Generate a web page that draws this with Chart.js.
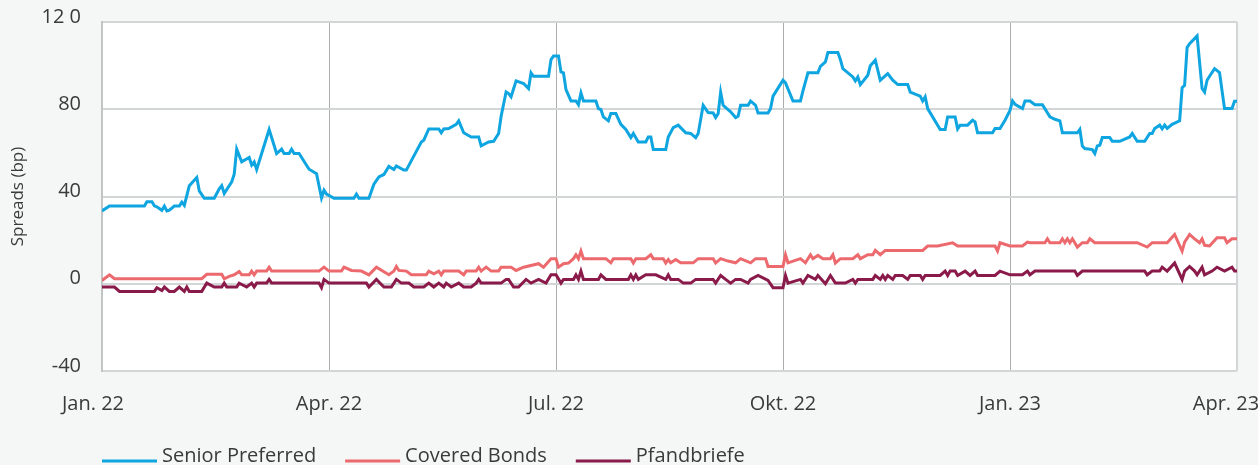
<!DOCTYPE html>
<html><head><meta charset="utf-8">
<script src="https://cdn.jsdelivr.net/npm/chart.js@4.4.1/dist/chart.umd.min.js"></script>
<style>
html,body{margin:0;padding:0;background:#f5f6f6;}
#wrap{position:relative;width:1258px;height:465px;}
</style></head><body>
<div id="wrap"><canvas id="c" width="1258" height="465"></canvas></div>
<script>
// Axis ticks
const xTickValues = [0, 91, 182, 273, 364, 455];
const xTickLabels = ['Jan. 22', 'Apr. 22', 'Jul. 22', 'Okt. 22', 'Jan. 23', 'Apr. 23'];
const yTickValues = [-40, 0, 40, 80, 120];
const yTickLabels = ['-40', '0', '40', '80', '12 0'];
const seriesNames = ['Senior Preferred', 'Covered Bonds', 'Pfandbriefe'];

// Senior Preferred (day index, bp)
const spX = [0,3,17,18,20,21,22,24,25,26,27,29,31,32,33,35,38,39,41,45,46,47,48,49,52,53,54,56,59,60,61,62,67,70,72,73,75,76,77,79,83,86,88,89,90,93,101,102,103,107,109,111,113,115,117,118,121,122,128,129,131,135,136,137,139,142,143,145,148,151,152,155,157,159,160,162,163,164,166,169,171,172,173,179,180,181,183,184,185,186,188,190,191,192,193,198,199,200,201,203,204,206,208,210,212,213,215,218,219,220,221,226,227,229,231,234,236,238,239,241,243,245,246,247,248,249,252,254,255,256,259,260,262,263,267,268,269,273,274,277,280,281,283,287,288,290,291,295,296,297,301,302,303,304,307,308,310,312,315,317,319,323,324,328,329,330,331,335,336,338,339,342,343,344,347,349,350,351,357,358,360,362,364,365,366,369,370,372,374,377,380,382,384,385,391,392,393,394,397,398,399,400,401,404,405,408,412,413,415,418,420,421,422,424,425,426,427,429,432,433,434,435,436,439,441,442,443,444,446,448,450,453,454,455];
const spY = [33.4,35.6,35.6,37.6,37.6,35.7,35.3,33.7,35.6,33.4,33.7,35.6,35.6,37.4,35.9,44.9,48.7,42.6,39.2,39.2,41.4,43.5,45.0,41.4,46.7,50.2,61.7,55.9,57.9,54.4,55.9,52.4,70.7,59.7,61.7,59.7,59.7,61.7,59.7,59.7,52.5,50.5,39.4,42.9,41.1,39.2,39.2,41.1,39.2,39.2,45.6,49.0,50.1,53.8,52.4,54.0,52.1,52.1,65.0,65.8,71.0,71.0,69.2,71.0,71.2,73.1,74.7,69.2,67.3,67.3,63.2,65.0,65.3,68.9,76.8,87.9,87.2,85.7,93.0,91.8,89.5,96.7,95.1,95.1,102.8,104.4,104.4,97.1,96.7,89.0,83.8,83.8,82.1,87.5,83.8,83.8,80.3,79.9,76.5,74.7,78.0,78.0,73.1,70.7,67.0,68.9,65.0,65.0,67.3,67.3,61.5,61.5,67.3,71.6,72.7,69.2,68.9,67.0,68.9,81.8,78.5,78.3,76.2,78.0,87.8,81.8,78.8,76.2,76.8,81.8,81.8,83.8,81.8,78.3,78.3,80.3,86.0,93.3,92.1,83.8,83.8,88.4,96.7,96.7,99.7,101.7,106.0,106.0,102.8,98.6,94.8,93.0,94.8,91.3,95.6,99.9,102.5,93.3,96.3,93.3,91.3,91.3,87.9,86.0,83.8,85.7,80.3,72.7,70.7,70.7,76.5,76.5,71.0,72.7,72.7,75.0,74.2,69.2,69.2,71.2,71.2,75.0,79.5,83.8,82.3,80.3,83.8,83.8,82.1,82.1,76.5,75.4,74.7,69.2,69.2,70.8,63.1,62.0,61.5,59.7,63.2,63.5,67.0,67.0,65.3,65.3,67.3,68.9,65.3,65.3,68.9,68.9,71.2,72.7,71.0,72.7,71.2,73.1,74.7,89.9,91.0,108.3,110.1,113.6,89.5,87.9,93.3,95.1,98.6,96.8,80.3,80.3,83.7,83.7];

// Covered Bonds
const cbX = [0,3,5,40,42,48,49,51,53,55,56,59,60,61,62,66,67,68,87,89,91,96,97,100,104,107,110,115,117,118,119,122,124,130,131,133,135,136,137,143,145,146,150,151,152,154,156,159,160,164,166,169,175,177,180,182,183,185,187,189,190,191,192,193,202,204,205,212,213,214,218,220,221,225,226,227,228,230,232,237,239,245,246,248,251,254,256,260,262,266,267,273,274,275,280,282,284,285,287,289,292,293,294,296,301,303,304,307,309,310,312,314,329,331,335,341,343,358,359,360,364,369,371,372,378,379,380,384,385,386,387,388,389,391,393,395,396,398,415,419,421,427,430,433,434,436,438,440,441,442,444,447,450,451,453,455];
const cbY = [1.5,4.1,2.3,2.3,4.3,4.3,2.3,3.4,4.1,5.6,4.1,4.1,5.8,4.1,5.8,5.8,7.6,5.8,5.8,7.6,5.8,5.8,7.6,6.1,5.8,4.1,7.6,4.1,5.8,7.9,6.1,5.8,4.1,4.1,5.8,4.6,5.8,4.1,5.8,5.8,4.1,5.8,5.8,7.6,5.8,7.6,5.8,5.8,7.6,7.6,6.1,7.6,9.2,7.6,11.5,11.5,7.6,9.2,9.5,11.5,13.3,11.5,15.0,11.5,11.5,9.6,11.5,11.5,9.5,11.5,11.5,13.3,11.5,11.5,9.5,11.1,9.6,11.1,9.6,9.6,11.5,11.5,9.5,11.5,10.4,9.6,11.5,9.6,11.5,11.5,7.9,7.9,13.3,9.6,11.5,9.6,13.3,11.5,13.0,11.5,11.5,13.3,9.5,11.5,11.5,13.3,11.5,13.3,13.3,15.3,13.3,15.3,15.3,17.3,17.3,18.8,17.3,17.3,15.0,18.8,17.3,17.3,19.1,18.8,18.8,20.6,18.8,18.8,20.6,18.8,20.6,18.8,20.6,16.8,18.8,18.8,20.6,18.8,18.8,16.8,18.8,18.8,22.6,15.0,19.1,22.6,20.6,18.8,20.6,17.6,17.3,21.1,21.1,18.8,20.6,20.6];

// Pfandbriefe
const pfX = [0,5,7,21,22,24,25,27,29,31,33,34,35,40,42,45,48,49,50,54,55,58,60,61,62,66,67,68,87,88,89,91,106,107,110,113,116,118,120,123,125,129,131,133,135,137,138,140,143,145,148,150,151,152,160,162,163,165,167,170,172,175,178,180,182,184,185,189,190,191,192,193,199,200,202,211,212,213,214,215,218,222,226,227,228,231,233,236,238,245,246,248,250,252,254,256,259,260,263,267,269,273,274,275,280,281,283,286,287,290,292,294,298,301,302,303,309,310,312,313,314,315,317,318,321,323,324,328,329,330,336,338,339,340,342,343,346,348,350,351,358,360,364,369,371,372,374,390,391,393,418,419,421,424,425,427,430,433,434,436,438,439,441,442,445,447,450,453,454,455];
const pfY = [-1.5,-1.5,-3.5,-3.5,-1.8,-3.1,-1.5,-3.5,-3.5,-1.5,-3.5,-1.5,-3.5,-3.5,0.3,-1.5,-1.5,0.3,-1.5,-1.5,0.3,-1.5,0.3,-1.5,0.3,0.3,2.0,0.3,0.3,-1.8,2.0,0.3,0.3,-1.5,2.0,-1.5,-1.5,2.0,0.3,0.3,-1.5,-1.5,0.3,-1.5,0.3,-1.5,0.3,-1.5,0.3,-1.5,-1.5,0.3,2.0,0.3,0.3,2.0,2.0,-1.5,-1.5,2.0,0.3,2.0,0.3,4.1,4.1,0.3,2.0,2.0,4.1,2.0,5.8,2.0,2.0,4.1,2.0,2.0,4.1,2.0,4.1,2.0,4.1,4.1,2.0,4.1,2.0,2.0,0.3,0.3,2.0,2.0,0.3,3.8,2.0,0.3,2.0,2.0,0.3,2.0,3.8,1.5,-1.8,-1.8,3.8,0.3,2.0,0.3,3.8,2.0,3.8,0.0,3.8,0.3,0.3,2.0,0.3,2.0,2.0,3.8,2.0,3.8,2.0,3.8,2.0,3.8,3.8,2.0,3.8,3.8,2.0,3.8,3.8,5.8,3.8,5.8,5.8,3.8,5.8,3.8,5.8,3.8,3.8,5.8,4.1,4.1,5.8,4.1,5.8,5.8,3.8,5.8,5.8,4.1,5.8,5.8,7.6,5.8,9.5,2.0,5.8,7.9,5.8,4.1,7.6,4.1,5.8,7.6,5.8,7.6,5.8,5.8];

const seriesColors = ['#0ea5e0', '#ec6a6e', '#8a1a4a'];
const toPts = (xs, ys) => xs.map((x, i) => ({x: x, y: ys[i]}));

Chart.defaults.font.family = "'Open Sans', 'Noto Sans', sans-serif";
Chart.defaults.color = '#3a3a3a';

const bgPlugin = {
  id: 'plotBg',
  beforeDraw(chart) {
    const a = chart.chartArea, c = chart.ctx;
    c.save();
    c.fillStyle = '#ffffff';
    c.fillRect(a.left, a.top, a.right - a.left, a.bottom - a.top);
    c.restore();
    // nudge the outer x labels as in the original
    try {
      const items = chart.scales.x.getLabelItems();
      if (items && !items._adj && items.length) {
        items[0].options.translation[0] -= 9;
        items[items.length - 1].options.translation[0] -= 11;
        items._adj = true;
      }
    } catch (e) {}
  }
};

const legendPlugin = {
  id: 'bottomLegend',
  afterDraw(chart) {
    const c = chart.ctx;
    c.save();
    c.font = "20px 'Open Sans', 'Noto Sans', sans-serif";
    c.textAlign = 'left';
    c.textBaseline = 'alphabetic';
    let x = chart.chartArea.left;
    chart.data.datasets.forEach(ds => {
      c.strokeStyle = ds.borderColor;
      c.lineWidth = 3;
      c.beginPath();
      c.moveTo(x, 461);
      c.lineTo(x + 55, 461);
      c.stroke();
      c.fillStyle = '#3a3a3a';
      c.fillText(ds.label, x + 60, 462);
      x += 60 + c.measureText(ds.label).width + 29;
    });
    c.restore();
  }
};

const mkDs = (i, xs, ys) => ({
  label: seriesNames[i],
  data: toPts(xs, ys),
  borderColor: seriesColors[i],
  backgroundColor: seriesColors[i],
  borderWidth: 3,
  pointRadius: 0,
  tension: 0,
  fill: false
});

new Chart(document.getElementById('c'), {
  type: 'line',
  data: { datasets: [mkDs(0, spX, spY), mkDs(1, cbX, cbY), mkDs(2, pfX, pfY)] },
  options: {
    responsive: false,
    animation: false,
    devicePixelRatio: 1,
    layout: { padding: { top: 22, right: 21, bottom: 44, left: 0 } },
    plugins: { legend: { display: false }, tooltip: { enabled: false } },
    scales: {
      x: {
        type: 'linear', min: 0, max: 455,
        afterBuildTicks: s => { s.ticks = xTickValues.map(v => ({ value: v })); },
        afterFit: s => { s.height = 50; s.paddingLeft = 0; s.paddingRight = 0; },
        ticks: {
          autoSkip: false, maxRotation: 0, padding: 21,
          font: { size: 20 }, color: '#3a3a3a',
          callback: v => { const i = xTickValues.indexOf(v); return i >= 0 ? xTickLabels[i] : ''; }
        },
        grid: {
          drawTicks: false,
          color: ctx => ctx.index === 0 ? 'rgba(0,0,0,0)' : (ctx.index === xTickValues.length - 1 ? '#d3d6d6' : '#acacac'),
          lineWidth: ctx => ctx.index === xTickValues.length - 1 ? 2 : 1
        },
        border: { display: false }
      },
      y: {
        min: -40, max: 120,
        afterBuildTicks: s => { s.ticks = yTickValues.map(v => ({ value: v })); },
        afterFit: s => { s.width = 102; s.paddingTop = 0; s.paddingBottom = 0; },
        ticks: {
          padding: 21, labelOffset: -5,
          font: { size: 20 }, color: '#3a3a3a',
          callback: v => { const i = yTickValues.indexOf(v); return i >= 0 ? yTickLabels[i] : ''; }
        },
        grid: { drawTicks: false, color: '#d3d6d6', lineWidth: 2 },
        border: { color: '#c2c5c5', width: 2 },
        title: { display: true, text: 'Spreads (bp)', font: { size: 17 }, color: '#3a3a3a', padding: { top: 8, bottom: 0 } }
      }
    }
  },
  plugins: [bgPlugin, legendPlugin]
});
</script>
</body></html>
